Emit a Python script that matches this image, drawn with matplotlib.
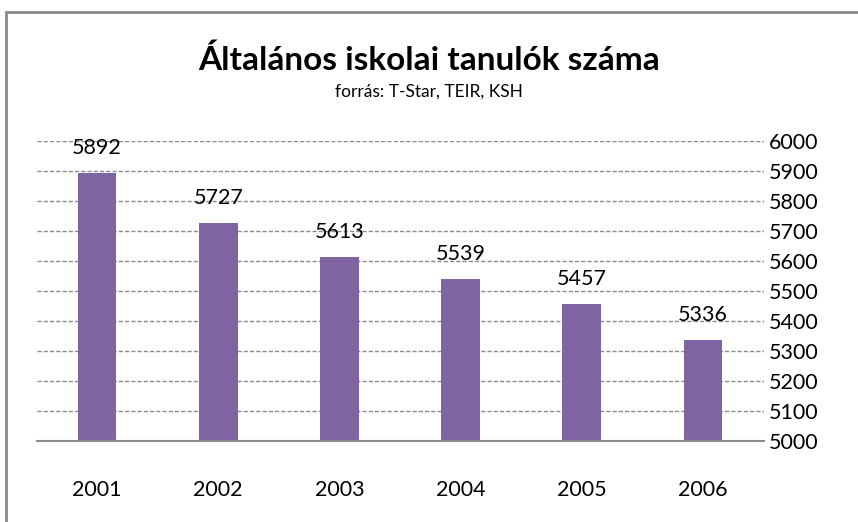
import matplotlib.pyplot as plt
from matplotlib.patches import Rectangle

years = ['2001', '2002', '2003', '2004', '2005', '2006']
students = [5892, 5727, 5613, 5539, 5457, 5336]
yticks = list(range(5000, 6001, 100))

plt.rcParams['font.family'] = ['Lato', 'DejaVu Sans']

W, H = 858, 522
fig = plt.figure(figsize=(W / 100, H / 100), dpi=100)
ax = fig.add_axes([36.5 / W, 1 - 441 / H, (763.5 - 36.5) / W, 300 / H])

x = range(len(years))
ax.bar(x, students, width=0.32, color='#8064A2', zorder=3)
for i, v in zip(x, students):
    ax.annotate(str(v), (i, v), xytext=(0, 11), textcoords='offset points',
                ha='center', va='bottom', fontsize=15.5, zorder=4)

ax.set_ylim(5000, 6000)
ax.set_xlim(-0.5, len(years) - 0.5)
ax.set_yticks(yticks)
ax.yaxis.tick_right()
ax.set_xticks(list(x))
ax.set_xticklabels(years)
ax.tick_params(axis='y', length=0, pad=4, labelsize=15.5)
ax.tick_params(axis='x', length=0, pad=28, labelsize=15.5)
ax.yaxis.grid(True, color='#8a8a8a', linestyle=(0, (3, 1.5)), linewidth=1, zorder=0)
for s in ['top', 'left', 'right']:
    ax.spines[s].set_visible(False)
ax.spines['bottom'].set_color('#8a8a8a')
ax.spines['bottom'].set_linewidth(1.5)
ax.spines['bottom'].set_zorder(5)

fig.text(0.5, 1 - 60 / H, 'Általános iskolai tanulók száma', ha='center', va='center',
         fontsize=24, fontweight='bold')
fig.text(0.5, 1 - 92 / H, 'forrás: T-Star, TEIR, KSH', ha='center', va='center', fontsize=12.5)

fig.patches.append(Rectangle((6 / W, -0.1), 1.2, (H - 12) / H + 0.1, transform=fig.transFigure,
                             fill=False, edgecolor='#8a8a8a', linewidth=2))

fig.savefig('out.png', dpi=100)
